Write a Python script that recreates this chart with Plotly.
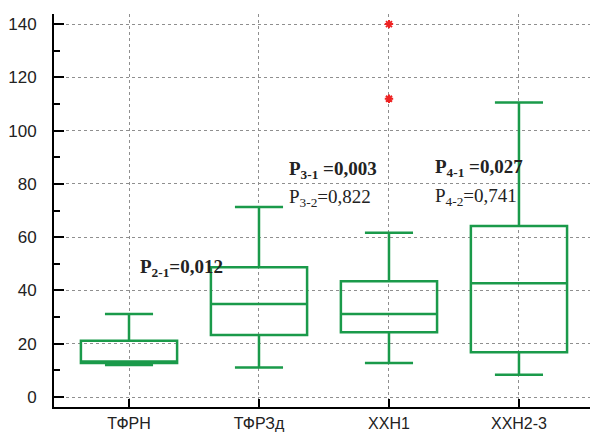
import plotly.graph_objects as go

categories = ["ТФРН", "ТФРЗд", "ХХН1", "ХХН2-3"]
lower_whisker = [12.0, 11.1, 12.8, 8.4]
q1 = [12.8, 23.3, 24.3, 16.8]
median = [13.3, 34.9, 31.2, 42.7]
q3 = [21.1, 48.7, 43.5, 64.2]
upper_whisker = [31.2, 71.3, 61.7, 110.6]
outlier_cat = [2, 2]
outlier_val = [140, 112]
y_ticks = [0, 20, 40, 60, 80, 100, 120, 140]

green = "#1a9a4a"
xpos = list(range(len(categories)))

fig = go.Figure()
fig.add_trace(go.Box(
    x=xpos, q1=q1, median=median, q3=q3,
    lowerfence=lower_whisker, upperfence=upper_whisker,
    width=0.74, whiskerwidth=0.5,
    line=dict(color=green, width=2.5),
    fillcolor="rgba(0,0,0,0)",
    boxpoints=False, showlegend=False, hoverinfo="skip",
))
fig.add_trace(go.Scatter(
    x=outlier_cat, y=outlier_val, mode="markers",
    marker=dict(symbol="asterisk-open", size=7, color="#ee2222",
                line=dict(color="#ee2222", width=2)),
    showlegend=False, hoverinfo="skip",
))

serif = "Liberation Serif, Times New Roman, serif"
tc = "#222222"
anns = [
    (0.07, 48.4, "<b>P<sub>2-1</sub>=0,012</b>"),
    (1.215, 85.2, "<b>P<sub>3-1</sub> =0,003</b>"),
    (1.215, 74.7, "P<sub>3-2</sub>=0,822"),
    (2.34, 86.0, "<b>P<sub>4-1</sub> =0,027</b>"),
    (2.34, 75.0, "P<sub>4-2</sub>=0,741"),
]
for ax, ay, t in anns:
    fig.add_annotation(x=ax, y=ay, xref="x", yref="y", text=t, showarrow=False,
                       xanchor="left", yanchor="middle",
                       font=dict(family=serif, size=19, color=tc))

fig.update_layout(
    width=598, height=432,
    margin=dict(l=46, r=8, t=6, b=33),
    paper_bgcolor="white", plot_bgcolor="white",
    font=dict(family="Liberation Sans, Arial, sans-serif", size=16, color=tc),
    xaxis=dict(
        range=[-0.577, 3.608], tickvals=xpos, ticktext=categories,
        showline=True, linecolor="black", linewidth=2,
        ticks="inside", ticklen=8, tickwidth=2, tickcolor="black",
        showgrid=True, gridcolor="#8f8f8f", griddash="dot", gridwidth=1,
        zeroline=False, tickfont=dict(size=16), automargin=False,
        ticklabelstandoff=1,
    ),
    yaxis=dict(
        range=[-3.75, 143.8], tickvals=y_ticks,
        showline=True, linecolor="black", linewidth=2,
        ticks="inside", ticklen=10, tickwidth=2, tickcolor="black",
        showgrid=True, gridcolor="#8f8f8f", griddash="dot", gridwidth=1,
        zeroline=False, tickfont=dict(size=17), automargin=False,
        ticklabelstandoff=12,
        minor=dict(ticks="inside", dtick=10, tick0=0, ticklen=6, tickwidth=1.5,
                   tickcolor="black", showgrid=False),
    ),
)

fig.write_html("out.html")
